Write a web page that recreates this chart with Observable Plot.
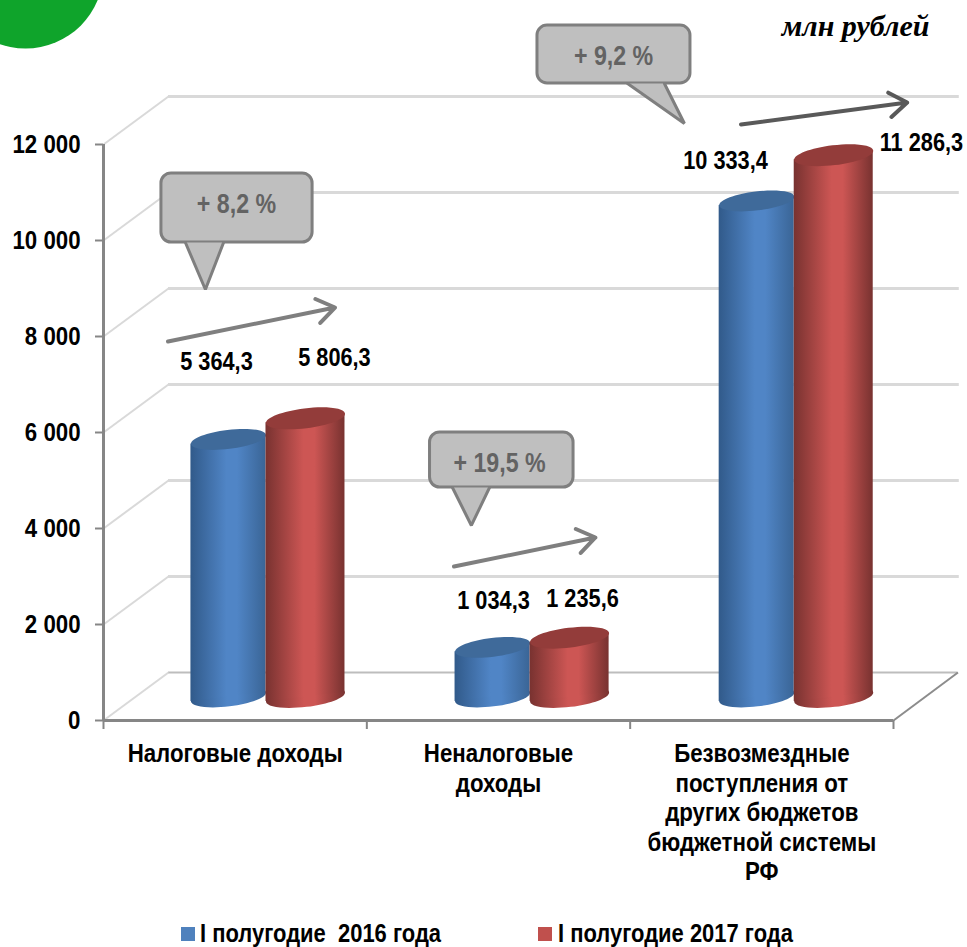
<!DOCTYPE html>
<html lang="ru">
<head>
<meta charset="utf-8">
<script src="https://cdn.jsdelivr.net/npm/d3@7"></script>
<script src="https://cdn.jsdelivr.net/npm/@observablehq/plot@0.6"></script>
<style>
html,body{margin:0;padding:0;background:#fff;}
#wrap{position:relative;width:967px;height:947px;overflow:hidden;}
#legend{position:absolute;left:0;top:915px;width:967px;height:32px;font:bold 25px "Liberation Sans",Arial,sans-serif;color:#000;}
#legend span{position:absolute;top:2px;white-space:pre;line-height:32px;transform:scaleX(.878);transform-origin:left center;}
#legend i{position:absolute;top:12px;width:14px;height:14px;}
</style>
</head>
<body>
<div id="wrap"></div>
<script>
const categories = ["Налоговые доходы", "Неналоговые\nдоходы", "Безвозмездные\nпоступления от\nдругих бюджетов\nбюджетной системы\nРФ"];
const seriesNames = ["I полугодие  2016 года", "I полугодие 2017 года"];
const values2016 = [5364.3, 1034.3, 10333.4];
const values2017 = [5806.3, 1235.6, 11286.3];
const yTicks = [0, 2000, 4000, 6000, 8000, 10000, 12000];
const xTicks = [0, 1, 2, 3];

// value labels: where each printed number sits
const labelValues = [...values2016.slice(0, 2), ...values2017.slice(0, 2), values2016[2], values2017[2]];
const labelX = [0.429, 1.481, 0.877, 1.819, 2.362, 3.106];
const labelY = [7479, 2500, 7542, 2521, 11646, 12021];

// growth call-outs
const calloutText = ["+ 8,2 %", "+ 19,5 %", "+ 9,2 %"];
const calloutX1 = [0.220, 1.240, 1.648];
const calloutX2 = [0.794, 1.785, 2.229];
const calloutTop = [11396, 6000, 14479];
const calloutBottom = [9958, 4854, 13271];
const calloutTextX = [0.505, 1.504, 1.937];
const calloutTextY = [10750, 5354, 13833];
const tailLeft = [0.311, 1.325, 1.990];
const tailTip = [0.387, 1.397, 2.206];
const tailTipY = [8979, 4063, 12438];
const tailRight = [0.456, 1.466, 2.130];

// growth arrows
const arrowX1 = [0.245, 1.331, 2.421];
const arrowY1 = [7896, 3208, 12417];
const arrowX2 = [0.879, 1.868, 3.052];
const arrowY2 = [8604, 3813, 12875];
const arrowColor = ["#7f7f7f", "#7f7f7f", "#595959"];

const unitText = "млн рублей";
const depthX = 0.2468, depthY = 1000;
const baseY = depthY * 0.49;       // cylinders stand half way back on the floor
const groupShift = 0.617;          // boundary between the two cylinders in a group
const groupStep = 1.003;           // spacing of the groups along the floor
const tilt = 94;                   // slope of the elliptical caps, in value units

const ru = d3.formatLocale({decimal: ",", thousands: "\u00a0", grouping: [3]});
const fmtInt = ru.format(",.0f"), fmtDec = ru.format(",.1f");

const W = 967, H = 915;
const FONT = '"Liberation Sans",Arial,sans-serif';
const TILT = 7 * Math.PI / 180;

// tilted ellipse as a custom Plot.dot symbol
const capSymbol = {
  draw(ctx, size) {
    const rx = Math.sqrt(size / Math.PI), ry = rx * 0.25, k = 0.5523;
    const c = Math.cos(TILT), s = Math.sin(TILT);
    const p = (x, y) => [x * c + y * s, -x * s + y * c];
    const m = p(rx, 0);
    ctx.moveTo(m[0], m[1]);
    const seg = (a, b, d) => ctx.bezierCurveTo(...p(...a), ...p(...b), ...p(...d));
    seg([rx, k * ry], [k * rx, ry], [0, ry]);
    seg([-k * rx, ry], [-rx, k * ry], [-rx, 0]);
    seg([-rx, -k * ry], [-k * rx, -ry], [0, -ry]);
    seg([k * rx, -ry], [rx, -k * ry], [rx, 0]);
    ctx.closePath();
  }
};

const gradient = (id, a, b, c) => `<linearGradient id="${id}" x1="0" x2="1" y1="0" y2="0">
<stop offset="0" stop-color="${a}"/><stop offset="0.48" stop-color="${b}"/><stop offset="0.62" stop-color="${b}"/><stop offset="1" stop-color="${c}"/></linearGradient>`;

function cylinder(values, side, widthUnits, r, bodyId, capColor) {
  const center = i => i * groupStep + groupShift + side * widthUnits / 2;
  const edges = values.flatMap((v, i) => [
    {i, x: center(i) - widthUnits / 2, y1: baseY - tilt, y2: baseY - tilt + v},
    {i, x: center(i) + widthUnits / 2, y1: baseY + tilt, y2: baseY + tilt + v}
  ]);
  return [
    Plot.dot(values, {x: (d, i) => center(i), y: () => baseY, r, symbol: capSymbol, fill: `url(#${bodyId})`}),
    Plot.area(edges, {x1: "x", y1: "y1", y2: "y2", z: "i", fill: `url(#${bodyId})`, curve: "linear"}),
    Plot.dot(values, {x: (d, i) => center(i), y: d => baseY + d, r, symbol: capSymbol, fill: capColor})
  ];
}

const tails = calloutText.flatMap((t, i) => [
  {i, x: tailLeft[i], y: calloutBottom[i]},
  {i, x: tailTip[i], y: tailTipY[i]},
  {i, x: tailRight[i], y: calloutBottom[i]}
]);

// the reference's sans type is condensed: squeeze glyphs horizontally about each label's anchor
const squeezeText = (g, k) => {
  d3.select(g).selectAll("text").attr("transform", function () {
    return (this.getAttribute("transform") || "") + ` scale(${k},1)`;
  });
  return g;
};
const squeezed = k => (index, scales, values, dimensions, context, next) =>
  squeezeText(next(index, scales, values, dimensions, context), k);

const chart = Plot.plot({
  width: W, height: H,
  marginLeft: 103, marginRight: 74, marginTop: 144, marginBottom: 195,
  x: {domain: [0, 3]},
  y: {domain: [0, 12000]},
  style: {fontFamily: FONT, fontWeight: "bold", fontSize: "25px", background: "#fff", color: "#000", overflow: "visible"},
  marks: [
    () => d3.create("svg:defs").html(
      gradient("bodyBlue", "#315a8a", "#5085c6", "#3a6596") +
      gradient("bodyRed", "#783230", "#cd5654", "#783230")).node(),

    // decorative green disc in the corner
    Plot.dot([0], {x: () => -0.296, y: () => 15625, r: 78, fill: "#0fa42b"}),

    // back wall grid and side wall
    Plot.ruleY(yTicks.slice(1), {y: d => d + depthY, x1: depthX, x2: 3 + depthX + 0.003, stroke: "#d9d9d9", strokeWidth: 3}),
    Plot.ruleY([0], {y: d => d + depthY, x1: depthX, x2: 3 + depthX - 0.002, stroke: "#bdbdbd", strokeWidth: 2}),
    Plot.link(yTicks, {x1: () => 0, y1: d => d, x2: () => depthX, y2: d => d + depthY, stroke: "#d9d9d9", strokeWidth: 2}),
    Plot.link([0], {x1: () => 3, y1: d => d, x2: () => 3 + depthX - 0.002, y2: d => d + depthY, stroke: "#8c8c8c", strokeWidth: 2}),

    // axes
    Plot.axisY({ticks: yTicks, tickFormat: fmtInt, tickSize: 8, tickPadding: 15, stroke: "#868686", strokeWidth: 2, fill: "#000", label: null}),
    Plot.axisX({ticks: xTicks, tickFormat: () => null, tickSize: 9, stroke: "#868686", strokeWidth: 2, label: null}),
    Plot.ruleX([0], {y1: 0, y2: 12000, stroke: "#868686", strokeWidth: 3}),
    Plot.ruleY([0], {x1: 0, x2: 3, stroke: "#868686", strokeWidth: 3}),

    // cylinders
    ...cylinder(values2016, -1, 0.285, 37.8, "bodyBlue", "#3f6a9a"),
    ...cylinder(values2017, 1, 0.3, 39.8, "bodyRed", "#933c3a"),

    // value labels
    Plot.text(labelValues, {render: squeezed(0.87), x: (d, i) => labelX[i], y: (d, i) => labelY[i], text: d => fmtDec(d), fill: "#000"}),

    // growth arrows
    Plot.arrow(arrowColor, {x1: (d, i) => arrowX1[i], y1: (d, i) => arrowY1[i], x2: (d, i) => arrowX2[i], y2: (d, i) => arrowY2[i],
      stroke: d => d, strokeWidth: 4, headLength: 8, headAngle: 70, bend: false}),

    // call-outs
    Plot.rect(calloutText, {x1: (d, i) => calloutX1[i], x2: (d, i) => calloutX2[i], y1: (d, i) => calloutBottom[i], y2: (d, i) => calloutTop[i],
      rx: 10, fill: "#bfbfbf", stroke: "#7f7f7f", strokeWidth: 3}),
    Plot.line(tails, {x: "x", y: "y", z: "i", fill: "#bfbfbf", stroke: "#7f7f7f", strokeWidth: 3, curve: "linear", strokeLinejoin: "miter"}),
    Plot.text(calloutText, {render: squeezed(0.86), x: (d, i) => calloutTextX[i], y: (d, i) => calloutTextY[i], text: d => d, fill: "#636363", fontSize: 27}),

    // category labels
    Plot.text(categories, {render: squeezed(0.89), x: (d, i) => i + 0.5, y: () => -437, text: d => d, lineAnchor: "top", lineHeight: 1.18, fill: "#000", fontSize: 25}),

    // unit
    Plot.text([unitText], {x: () => 2.856, y: () => 14458, text: d => d, fontFamily: '"Liberation Serif",serif', fontStyle: "italic", fontWeight: "bold", fontSize: 30, fill: "#000"})
  ]
});

const wrap = document.getElementById("wrap");
wrap.appendChild(chart);
d3.select(chart).selectAll('g[aria-label="y-axis tick label"]').each(function () { squeezeText(this, 0.89); });

const legend = d3.select(wrap).append("div").attr("id", "legend");
const legendColors = ["#4f81bd", "#c0504d"];
const swatchLeft = [181, 538], textLeft = [200, 558];
seriesNames.forEach((name, i) => {
  legend.append("i").style("left", swatchLeft[i] + "px").style("background", legendColors[i]);
  legend.append("span").style("left", textLeft[i] + "px").text(name);
});
</script>
</body>
</html>
